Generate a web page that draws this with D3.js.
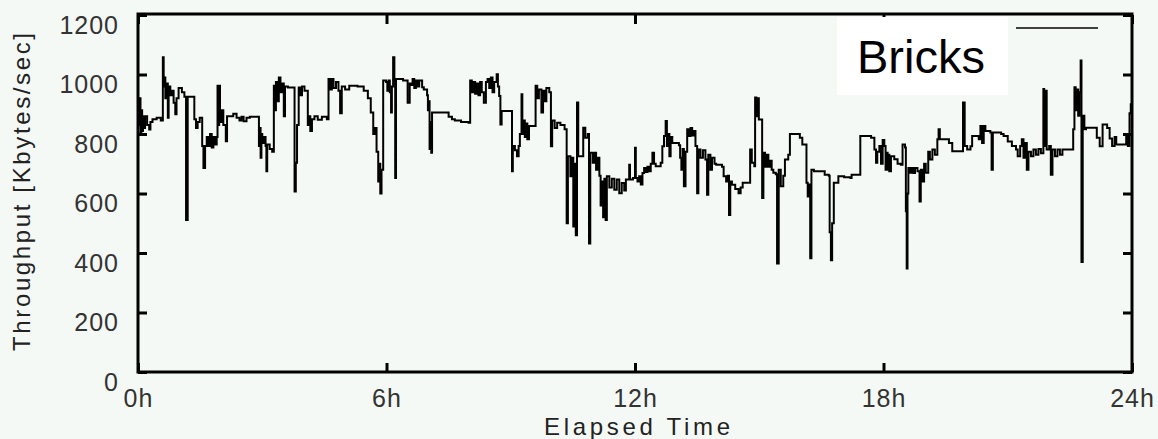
<!DOCTYPE html>
<html>
<head>
<meta charset="utf-8">
<script src="https://cdnjs.cloudflare.com/ajax/libs/d3/7.8.5/d3.min.js"></script>
<style>
  body { margin: 0; background: #f5f9f5; }
  .tick text { font-family: "Liberation Sans", Arial, sans-serif; }
</style>
</head>
<body>
<div class="container"></div>
<script>
// throughput of the "Bricks" transfer over one day

// elapsed time in hours
var hours = [
  0.00, 0.02, 0.04, 0.06, 0.08, 0.10, 0.12, 0.14, 0.17, 0.22, 0.27, 0.30, 0.35, 0.45, 0.55,
  0.60, 0.62, 0.64, 0.66, 0.68, 0.72, 0.74, 0.78, 0.82, 0.86, 0.90, 0.93, 0.98, 1.06, 1.12,
  1.16, 1.20, 1.36, 1.40, 1.44, 1.49, 1.55, 1.58, 1.62, 1.66, 1.70, 1.74, 1.78, 1.82, 1.86,
  1.90, 1.92, 1.94, 1.96, 1.98, 2.02, 2.06, 2.12, 2.15, 2.30, 2.38, 2.45, 2.50, 2.55, 2.62,
  2.70, 2.88, 2.92, 2.94, 2.96, 2.98, 3.00, 3.04, 3.08, 3.10, 3.12, 3.18, 3.24, 3.28, 3.30,
  3.33, 3.36, 3.40, 3.44, 3.48, 3.52, 3.55, 3.62, 3.76, 3.78, 3.81, 3.84, 3.88, 3.92, 3.96,
  4.02, 4.10, 4.13, 4.16, 4.20, 4.26, 4.34, 4.44, 4.56, 4.60, 4.64, 4.68, 4.72, 4.78, 4.84,
  4.88, 4.92, 5.00, 5.10, 5.30, 5.45, 5.55, 5.62, 5.68, 5.72, 5.76, 5.80, 5.82, 5.85, 5.88,
  5.92, 5.99, 6.02, 6.05, 6.08, 6.11, 6.13, 6.16, 6.19, 6.21, 6.23, 6.40, 6.51, 6.56, 6.60,
  6.63, 6.67, 6.71, 6.75, 6.79, 6.86, 6.90, 6.98, 7.00, 7.02, 7.04, 7.06, 7.08, 7.10, 7.45,
  7.50, 7.58, 7.65, 7.80, 7.98, 8.02, 8.06, 8.10, 8.14, 8.18, 8.22, 8.26, 8.30, 8.35, 8.40,
  8.44, 8.48, 8.52, 8.56, 8.60, 8.66, 8.69, 8.72, 8.75, 8.78, 9.00, 9.03, 9.05, 9.10, 9.15,
  9.19, 9.22, 9.26, 9.28, 9.31, 9.34, 9.37, 9.40, 9.44, 9.56, 9.60, 9.64, 9.68, 9.74, 9.78,
  9.82, 9.86, 9.93, 9.97, 10.00, 10.06, 10.12, 10.20, 10.30, 10.35, 10.38, 10.44, 10.48, 10.51, 10.54,
  10.57, 10.60, 10.63, 10.72, 10.75, 10.80, 10.86, 10.89, 10.92, 10.98, 11.02, 11.06, 11.10, 11.14, 11.17,
  11.20, 11.23, 11.26, 11.29, 11.32, 11.38, 11.44, 11.50, 11.56, 11.62, 11.68, 11.74, 11.78, 11.86, 11.88,
  11.95, 12.00, 12.02, 12.06, 12.10, 12.14, 12.18, 12.22, 12.26, 12.30, 12.34, 12.38, 12.42, 12.46, 12.50,
  12.62, 12.66, 12.70, 12.74, 12.77, 12.80, 12.83, 12.86, 12.90, 13.06, 13.09, 13.12, 13.15, 13.18, 13.22,
  13.26, 13.30, 13.34, 13.38, 13.42, 13.46, 13.50, 13.53, 13.58, 13.64, 13.70, 13.74, 13.77, 13.82, 13.86,
  13.92, 13.96, 14.10, 14.14, 14.20, 14.24, 14.27, 14.30, 14.34, 14.42, 14.50, 14.55, 14.60, 14.76, 14.78,
  14.82, 14.88, 14.90, 14.93, 14.96, 14.99, 15.04, 15.07, 15.10, 15.14, 15.18, 15.22, 15.26, 15.30, 15.34,
  15.40, 15.43, 15.47, 15.52, 15.58, 15.62, 15.70, 15.74, 15.90, 15.98, 16.04, 16.12, 16.14, 16.17, 16.20,
  16.23, 16.26, 16.32, 16.45, 16.58, 16.68, 16.70, 16.73, 16.76, 16.80, 16.88, 16.91, 17.05, 17.20, 17.23,
  17.42, 17.44, 17.60, 17.70, 17.78, 17.82, 17.85, 17.90, 17.94, 17.98, 18.02, 18.05, 18.08, 18.10, 18.12,
  18.14, 18.18, 18.26, 18.34, 18.42, 18.46, 18.52, 18.54, 18.56, 18.58, 18.60, 18.64, 18.68, 18.72, 18.76,
  18.82, 18.87, 18.90, 18.94, 18.98, 19.02, 19.08, 19.12, 19.18, 19.24, 19.30, 19.33, 19.36, 19.52, 19.58,
  19.66, 19.90, 19.92, 19.96, 20.02, 20.10, 20.14, 20.30, 20.34, 20.38, 20.42, 20.46, 20.58, 20.61, 20.64,
  20.84, 20.90, 21.00, 21.10, 21.20, 21.24, 21.30, 21.34, 21.38, 21.42, 21.46, 21.50, 21.56, 21.62, 21.68,
  21.74, 21.80, 21.86, 21.88, 21.91, 21.94, 22.00, 22.04, 22.08, 22.14, 22.20, 22.26, 22.32, 22.56, 22.58,
  22.61, 22.64, 22.67, 22.70, 22.73, 22.76, 22.78, 22.81, 22.85, 22.89, 23.12, 23.15, 23.22, 23.29, 23.40,
  23.46, 23.52, 23.58, 23.62, 23.82, 23.86, 23.90, 23.94, 23.97, 24.00
];

// throughput in kbytes/sec
var throughput = [
  900, 830, 920, 800, 880, 810, 860, 820, 860, 830, 815, 840, 850, 855, 845,
  1058, 960, 990, 920, 970, 855, 960, 930, 945, 905, 866, 920, 955, 940, 925,
  511, 925, 850, 820, 840, 855, 760, 686, 760, 790, 760, 800, 755, 790, 765,
  790, 962, 830, 962, 840, 880, 830, 776, 860, 868, 855, 845, 858, 843, 855,
  858, 858, 760, 820, 720, 800, 770, 790, 760, 675, 765, 750, 740, 962, 880,
  975, 910, 990, 940, 970, 860, 960, 956, 956, 607, 703, 830, 956, 930, 960,
  945, 830, 860, 810, 850, 860, 848, 858, 850, 985, 950, 985, 955, 975, 945,
  870, 960, 950, 962, 960, 945, 920, 872, 800, 820, 740, 640, 700, 600, 680,
  980, 975, 945, 980, 940, 872, 960, 1058, 980, 652, 985, 980, 905, 970, 965,
  985, 955, 980, 960, 980, 957, 950, 930, 880, 910, 750, 840, 737, 872, 872,
  858, 850, 845, 840, 838, 980, 940, 975, 935, 970, 930, 975, 940, 905, 975,
  985, 955, 990, 940, 975, 1001, 960, 928, 832, 877, 877, 675, 760, 745, 725,
  760, 800, 934, 800, 845, 790, 835, 782, 827, 827, 962, 920, 950, 872, 945,
  910, 955, 940, 759, 845, 820, 838, 830, 816, 500, 725, 658, 720, 489, 700,
  460, 906, 725, 725, 821, 787, 800, 432, 737, 703, 737, 680, 720, 660, 560,
  640, 520, 650, 511, 658, 620, 650, 613, 647, 601, 635, 610, 647, 697, 647,
  652, 754, 652, 640, 658, 630, 669, 686, 672, 690, 675, 700, 737, 700, 692,
  703, 759, 793, 844, 760, 800, 725, 790, 770, 762, 720, 680, 750, 624, 740,
  816, 793, 820, 795, 810, 760, 601, 748, 720, 745, 714, 596, 730, 680, 720,
  700, 697, 690, 658, 640, 660, 528, 640, 629, 615, 601, 620, 636, 636, 748,
  703, 692, 923, 860, 920, 849, 849, 585, 737, 690, 730, 690, 710, 680, 670,
  665, 365, 680, 624, 660, 714, 730, 800, 800, 787, 765, 765, 636, 590, 630,
  382, 680, 675, 675, 663, 660, 470, 376, 500, 636, 636, 658, 655, 652, 663,
  663, 793, 793, 787, 748, 703, 740, 760, 700, 780, 760, 680, 737, 680, 730,
  675, 725, 715, 700, 697, 765, 755, 540, 348, 600, 686, 670, 686, 669, 686,
  675, 573, 680, 640, 700, 670, 740, 714, 748, 730, 782, 816, 782, 782, 770,
  742, 742, 906, 760, 748, 759, 793, 782, 827, 770, 827, 810, 805, 680, 805,
  800, 793, 775, 760, 748, 725, 760, 782, 720, 770, 680, 740, 725, 748, 730,
  750, 735, 951, 760, 945, 748, 760, 663, 748, 725, 748, 730, 748, 748, 816,
  957, 880, 950, 861, 940, 1047, 370, 861, 816, 821, 821, 787, 759, 832, 820,
  785, 760, 790, 765, 765, 800, 760, 870, 900, 880
];

var yTicks = [0, 200, 400, 600, 800, 1000, 1200];
var xTicks = [0, 6, 12, 18, 24];
var xTickLabels = ["0h", "6h", "12h", "18h", "24h"];
var seriesName = "Bricks";

var chartOptions = {width: 1158, height: 439,
                    left: 138, right: 1132, top: 15, bottom: 372};

var data = hours.map(function(h, i){ return {t: h, v: throughput[i]}; });

var svg = d3.select(".container")
    .append("svg")
    .attr("width", chartOptions.width)
    .attr("height", chartOptions.height)
    .style("display", "block");

svg.append("rect")
    .attr("width", chartOptions.width)
    .attr("height", chartOptions.height)
    .attr("fill", "#f5f9f5");

var x = d3.scaleLinear().domain([0, 24]).range([chartOptions.left, chartOptions.right]);
var y = d3.scaleLinear().domain([0, 1200]).range([chartOptions.bottom, chartOptions.top]);

// the series, drawn as steps
var line = d3.line()
    .x(function(d){ return x(d.t); })
    .y(function(d){ return y(d.v); })
    .curve(d3.curveStepAfter);

svg.append("path")
    .datum(data)
    .attr("d", line)
    .attr("fill", "none")
    .attr("stroke", "#000")
    .attr("stroke-width", 2);

// axes, ticks all point inward
var styleAxis = function(g){
  g.select(".domain").remove();
  g.selectAll(".tick line").attr("stroke", "#000").attr("stroke-width", 3);
  g.selectAll(".tick text")
      .attr("fill", "#333")
      .style("font-size", "25px")
      .style("letter-spacing", "1px");
};

svg.append("g")
    .attr("transform", "translate(" + chartOptions.left + ",0)")
    .call(d3.axisLeft(y).tickValues(yTicks).tickSize(-9).tickPadding(19)
      .tickFormat(d3.format("d")))
    .call(styleAxis)
    .selectAll(".tick text").attr("dy", "0.72em");

svg.append("g")
    .attr("transform", "translate(" + chartOptions.right + ",0)")
    .call(d3.axisRight(y).tickValues(yTicks).tickSize(-9).tickFormat(""))
    .call(styleAxis);

svg.append("g")
    .attr("transform", "translate(0," + chartOptions.bottom + ")")
    .call(d3.axisBottom(x).tickValues(xTicks).tickSize(-9).tickPadding(17)
      .tickFormat(function(d, i){ return xTickLabels[i]; }))
    .call(styleAxis);

svg.append("g")
    .attr("transform", "translate(0," + chartOptions.top + ")")
    .call(d3.axisTop(x).tickValues(xTicks).tickSize(-9).tickFormat(""))
    .call(styleAxis);

// frame
svg.append("rect")
    .attr("x", chartOptions.left)
    .attr("y", chartOptions.top - 1)
    .attr("width", chartOptions.right - chartOptions.left)
    .attr("height", chartOptions.bottom - chartOptions.top + 1)
    .attr("fill", "none")
    .attr("stroke", "#000")
    .attr("stroke-width", 3);

// axis titles
svg.append("text")
    .attr("transform", "translate(30,192) rotate(-90)")
    .attr("text-anchor", "middle")
    .attr("textLength", 318)
    .attr("lengthAdjust", "spacing")
    .attr("fill", "#222")
    .style("font-family", "'Liberation Sans', Arial, sans-serif")
    .style("font-size", "24px")
    .text("Throughput [Kbytes/sec]");

svg.append("text")
    .attr("x", 637)
    .attr("y", 435)
    .attr("text-anchor", "middle")
    .attr("textLength", 186)
    .attr("lengthAdjust", "spacing")
    .attr("fill", "#222")
    .style("font-family", "'Liberation Sans', Arial, sans-serif")
    .style("font-size", "24px")
    .text("Elapsed Time");

// legend
svg.append("rect")
    .attr("x", 837)
    .attr("y", 17)
    .attr("width", 171)
    .attr("height", 78)
    .attr("fill", "#fff");

svg.append("text")
    .attr("x", 857)
    .attr("y", 73)
    .attr("fill", "#000")
    .style("font-family", "'Liberation Sans', Arial, sans-serif")
    .style("font-size", "47px")
    .text(seriesName);

svg.append("line")
    .attr("x1", 1016).attr("x2", 1098)
    .attr("y1", 28).attr("y2", 28)
    .attr("stroke", "#000")
    .attr("stroke-width", 1.6);
</script>
</body>
</html>
